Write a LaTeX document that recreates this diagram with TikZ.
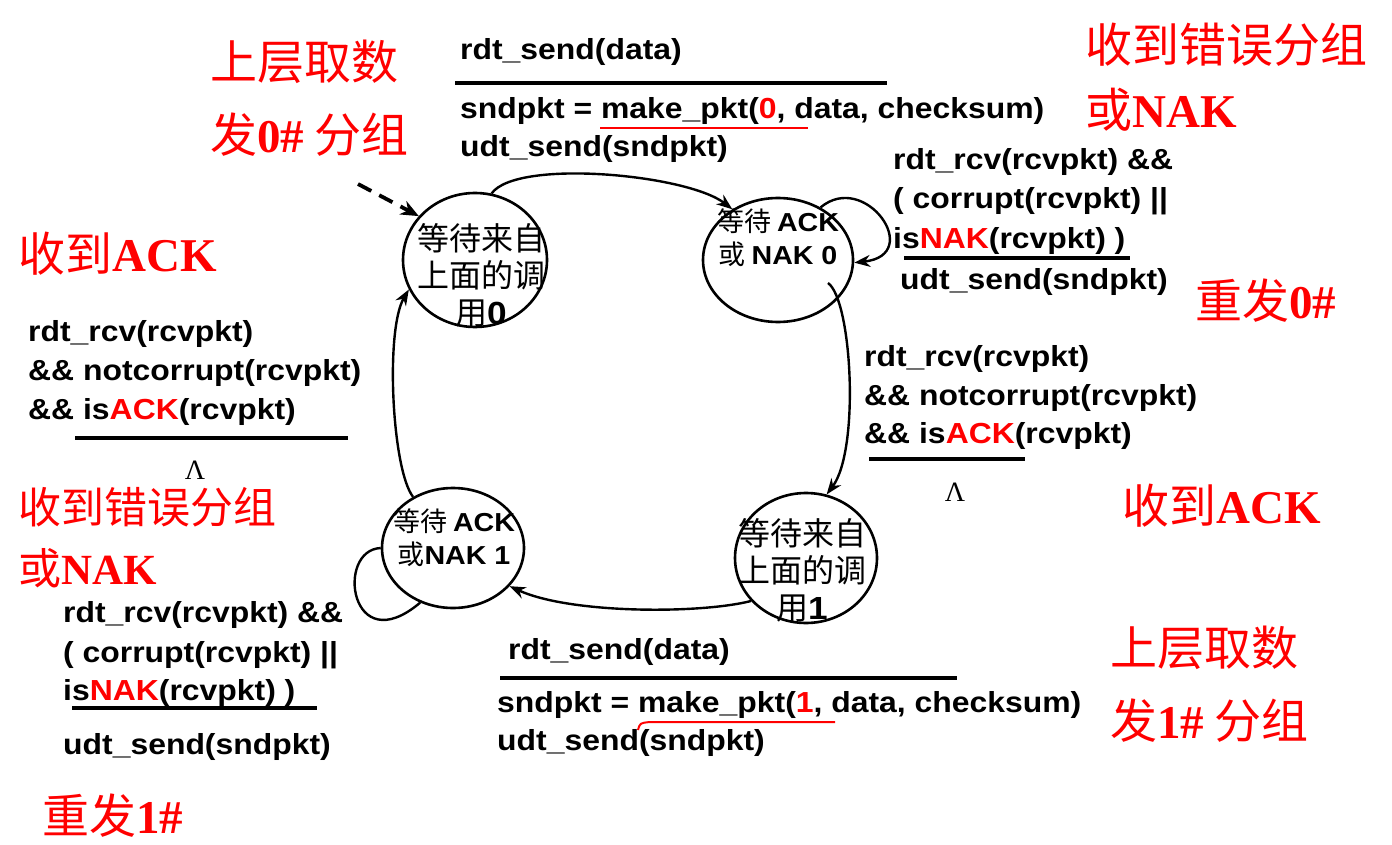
\documentclass[tikz,border=0pt]{standalone}
\usepackage{fontspec}
\usetikzlibrary{shapes.geometric,arrows.meta}
\newfontfamily\codefont[FakeStretch=1.1]{Liberation Sans}
\newfontfamily\cjk{Noto Sans CJK SC}
\newfontfamily\tnr{Liberation Serif}
\newcommand{\rd}[1]{{\color{red}#1}}
\newcommand{\tb}[1]{{\tnr\bfseries #1}}
\begin{document}
\begin{tikzpicture}[x=1pt,y=-1pt,
  state/.style={draw, ellipse, line width=2.6pt, inner sep=0pt},
  code/.style={anchor=base west, inner sep=0pt, font=\codefont\bfseries\fontsize{29}{35}\selectfont},
  note/.style={anchor=base west, inner sep=0pt, text=red, font=\cjk\fontsize{47}{56}\selectfont},
  smallnote/.style={note, font=\cjk\fontsize{43}{50}\selectfont},
  stbig/.style={inner sep=0pt, align=center, font=\cjk\fontsize{32}{37}\selectfont},
  stsmall/.style={inner sep=0pt, align=center, font=\cjk\fontsize{27}{33}\selectfont},
  lam/.style={inner sep=0pt, font=\tnr\fontsize{28}{30}\selectfont},
  rule/.style={line width=3.6pt},
  redline/.style={draw=red, line width=2pt},
  conn/.style={line width=2.4pt, -{Stealth[length=16pt,width=12pt]}},
  loopline/.style={line width=2.4pt},
  initarrow/.style={line width=3.8pt, dash pattern=on 15pt off 9pt, -{Stealth[length=18pt,width=15pt]}}
]
\fill[white] (0,0) rectangle (1392,845);
\useasboundingbox (0,0) rectangle (1392,845);

% states
\node[state, minimum width=144pt, minimum height=134pt] (S0) at (475,260) {};
\node[state, minimum width=150pt, minimum height=124pt] (S1) at (778,260) {};
\node[state, minimum width=142pt, minimum height=130pt] (S2) at (806,558) {};
\node[state, minimum width=142pt, minimum height=120pt] (S3) at (453,548) {};

% state texts
\node[stbig] (S0t) at (481,275) {等待来自\\上面的调\\用{\codefont\bfseries 0}};
\node[stsmall] (S1t) at (778,238) {等待 {\codefont\bfseries\fontsize{26}{33}\selectfont ACK}\\或 {\codefont\bfseries\fontsize{26}{33}\selectfont NAK 0}};
\node[stbig] (S2t) at (802,570) {等待来自\\上面的调\\用{\codefont\bfseries 1}};
\node[stsmall] (S3t) at (454,538) {等待 {\codefont\bfseries\fontsize{26}{33}\selectfont ACK}\\或{\codefont\bfseries\fontsize{26}{33}\selectfont NAK 1}};

% connectors
\coordinate (init) at (358,184);
\draw[initarrow] (init) -- (S0.142);
\draw[conn] (S0.76) .. controls +(25,-35) and +(-45,-35) .. (S1.132);
\draw[conn] (S1.51) .. controls (865,170) and (925,255) .. (S1.358);
\coordinate (s1out) at (828,283);
\draw[conn] (s1out) .. controls (852,300) and (860,450) .. (S2.72);
\draw[conn] (S2.218) .. controls (700,614) and (570,614) .. (S3.-34);
\draw[loopline] (S3.180) .. controls (335,550) and (350,662) .. (S3.239);
\draw[conn] (S3.128) .. controls (392,470) and (385,330) .. (S0.204);

% top label
\node[code] (t1) at (460,60) {rdt\_send(data)};
\draw[rule] (455,83) -- (887,83);
\node[code] (t2) at (460,119) {sndpkt = make\_pkt(\rd{0}, data, checksum)};
\draw[redline] (600,128) -- (808,128);
\node[code] (t3) at (460,157) {udt\_send(sndpkt)};

% S1 self-loop label
\node[code] (a1) at (893,170) {rdt\_rcv(rcvpkt) \&\&};
\node[code] (a2) at (893,208) {( corrupt(rcvpkt) ||};
\node[code] (a3) at (893,248) {is\rd{NAK}(rcvpkt) )};
\draw[rule] (904,258) -- (1130,258);
\node[code] (a4) at (900,289) {udt\_send(sndpkt)};

% right middle label
\node[code] (b1) at (864,366) {rdt\_rcv(rcvpkt)};
\node[code] (b2) at (864,405) {\&\& notcorrupt(rcvpkt)};
\node[code] (b3) at (864,443) {\&\& is\rd{ACK}(rcvpkt)};
\draw[rule] (869,459) -- (1025,459);
\node[lam] (b4) at (955,492) {Λ};

% bottom label
\node[code] (c1) at (508,659) {rdt\_send(data)};
\draw[rule] (500,678) -- (957,678);
\node[code] (c2) at (497,712) {sndpkt = make\_pkt(\rd{1}, data, checksum)};
\draw[redline] (638,730) .. controls (640,723) .. (650,722) -- (835,722);
\node[code] (c3) at (497,750) {udt\_send(sndpkt)};

% left middle label
\node[code] (d1) at (28,341) {rdt\_rcv(rcvpkt)};
\node[code] (d2) at (28,380) {\&\& notcorrupt(rcvpkt)};
\node[code] (d3) at (28,419) {\&\& is\rd{ACK}(rcvpkt)};
\draw[rule] (75,438) -- (348,438);
\node[lam] (d4) at (195,470) {Λ};

% bottom left label
\node[code] (e1) at (63,622) {rdt\_rcv(rcvpkt) \&\&};
\node[code] (e2) at (63,662) {( corrupt(rcvpkt) ||};
\node[code] (e3) at (63,700) {is\rd{NAK}(rcvpkt) )};
\draw[rule] (72,708) -- (317,708);
\node[code] (e4) at (63,754) {udt\_send(sndpkt)};

% red notes
\node[note] (n1) at (210,80) {上层取数};
\node[note] (n2) at (210,153) {发\tb{0\#} 分组};
\node[note] (n3) at (1085,63) {收到错误分组};
\node[note] (n4) at (1085,128) {或\tb{NAK}};
\node[note] (n5) at (1195,318) {重发\tb{0\#}};
\node[note] (n6) at (1122,523) {收到\tb{ACK}};
\node[note] (n7) at (1110,665) {上层取数};
\node[note] (n8) at (1110,738) {发\tb{1\#} 分组};
\node[note] (n9) at (18,271) {收到\tb{ACK}};
\node[smallnote] (n10) at (18,523) {收到错误分组};
\node[smallnote] (n11) at (18,584) {或\tb{NAK}};
\node[note] (n12) at (42,833) {重发\tb{1\#}};
\end{tikzpicture}
\end{document}
